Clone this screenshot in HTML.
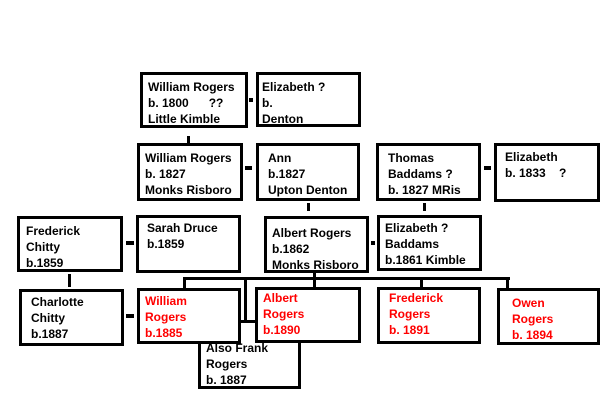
<!DOCTYPE html>
<html><head><style>
body{margin:0;width:600px;height:420px;background:#fff;position:relative;overflow:hidden;font-family:"Liberation Sans",Arial,sans-serif;}
.b{position:absolute;box-sizing:border-box;border:3px solid #000;background:#fff;font-weight:bold;font-size:12px;line-height:16px;padding:4px 0 0 5px;color:#000;white-space:pre;}
.r{color:#f00;}
.l{position:absolute;background:#000;}
</style></head><body>
<div class="l" style="left:183px;top:277px;width:327px;height:3px"></div>
<div class="l" style="left:183px;top:277px;width:3px;height:12px"></div>
<div class="l" style="left:244px;top:277px;width:3px;height:56px"></div>
<div class="l" style="left:244px;top:331px;width:10px;height:3px"></div>
<div class="l" style="left:313px;top:270px;width:3px;height:18px"></div>
<div class="l" style="left:420px;top:277px;width:3px;height:11px"></div>
<div class="l" style="left:506px;top:277px;width:3px;height:11px"></div>

<div class="b" style="left:198px;top:320px;width:103px;height:69px;padding-top:17px">Also Frank
Rogers
b. 1887</div>

<div class="b" style="left:140px;top:72px;width:108px;height:56px">William Rogers
b. 1800      ??
Little Kimble</div>
<div class="l" style="left:249px;top:98px;width:4px;height:4px"></div>
<div class="b" style="left:256px;top:72px;width:105px;height:55px;padding-left:3px">Elizabeth ?
b.
Denton</div>
<div class="l" style="left:187px;top:136px;width:3px;height:7px"></div>

<div class="b" style="left:137px;top:143px;width:106px;height:58px">William Rogers
b. 1827
Monks Risboro</div>
<div class="l" style="left:245px;top:166px;width:7px;height:4px"></div>
<div class="b" style="left:256px;top:143px;width:104px;height:58px;padding-left:9px">Ann
b.1827
Upton Denton</div>
<div class="b" style="left:376px;top:143px;width:105px;height:58px;padding-left:9px">Thomas
Baddams ?
b. 1827 MRis</div>
<div class="l" style="left:484px;top:166px;width:7px;height:4px"></div>
<div class="b" style="left:494px;top:143px;width:106px;height:59px;padding-left:8px;padding-top:3px">Elizabeth
b. 1833    ?</div>
<div class="l" style="left:307px;top:203px;width:3px;height:8px"></div>
<div class="l" style="left:423px;top:203px;width:3px;height:8px"></div>

<div class="b" style="left:17px;top:216px;width:106px;height:56px;padding-left:6px">Frederick
Chitty
b.1859</div>
<div class="l" style="left:126px;top:241px;width:8px;height:4px"></div>
<div class="b" style="left:136px;top:215px;width:105px;height:58px;padding-left:8px;padding-top:2px">Sarah Druce
b.1859</div>
<div class="b" style="left:264px;top:216px;width:105px;height:57px;padding-top:6px">Albert Rogers
b.1862
Monks Risboro</div>
<div class="l" style="left:371px;top:241px;width:4px;height:4px"></div>
<div class="b" style="left:377px;top:215px;width:105px;height:56px;padding-top:2px">Elizabeth ?
Baddams
b.1861 Kimble</div>
<div class="l" style="left:68px;top:274px;width:3px;height:13px"></div>

<div class="b" style="left:19px;top:289px;width:105px;height:57px;padding-left:9px;padding-top:2px">Charlotte
Chitty
b.1887</div>
<div class="l" style="left:126px;top:314px;width:8px;height:4px"></div>
<div class="b r" style="left:137px;top:288px;width:104px;height:56px;padding-top:2px">William
Rogers
b.1885</div>
<div class="b r" style="left:255px;top:287px;width:106px;height:56px;padding-top:0">Albert
Rogers
b.1890</div>
<div class="b r" style="left:377px;top:287px;width:104px;height:57px;padding-left:9px;padding-top:0">Frederick
Rogers
b. 1891</div>
<div class="b r" style="left:497px;top:288px;width:103px;height:57px;padding-left:12px;padding-top:4px">Owen
Rogers
b. 1894</div>
</body></html>
